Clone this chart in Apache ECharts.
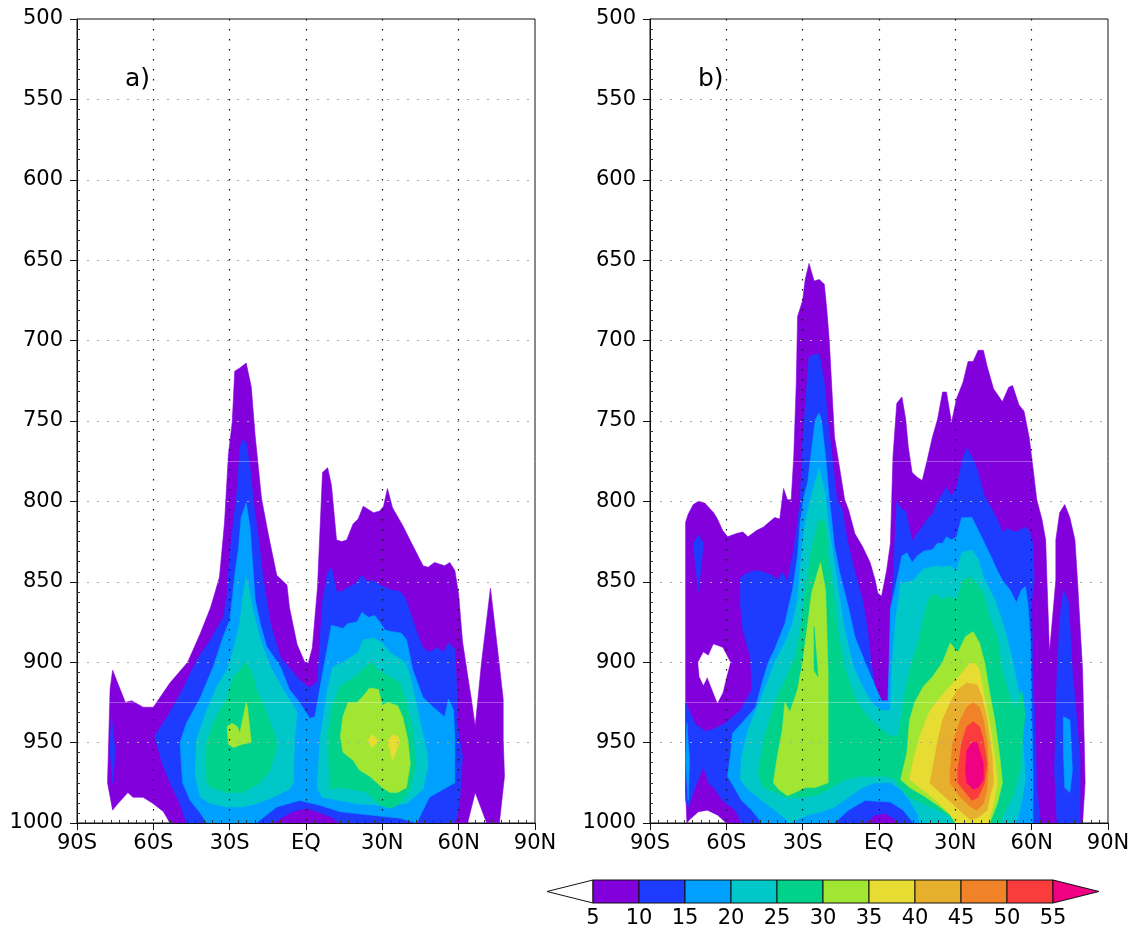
<!DOCTYPE html>
<html>
<head>
<meta charset="utf-8">
<title>Zonal-mean cross sections</title>
<script src="https://cdn.jsdelivr.net/npm/echarts@6/dist/echarts.min.js"></script>
<style>
  html, body { margin: 0; padding: 0; background: #fff; }
  #chart { width: 1138px; height: 932px; }
</style>
</head>
<body>
<div id="chart"></div>
<script>
// ---- axes and shading levels ----
const LAT_TICKS = [-90, -60, -30, 0, 30, 60, 90];
const LAT_NAMES = ['90S', '60S', '30S', 'EQ', '30N', '60N', '90N'];
const P_TICKS = [500, 550, 600, 650, 700, 750, 800, 850, 900, 950, 1000];
const LEVELS = [5, 10, 15, 20, 25, 30, 35, 40, 45, 50, 55];
const LEVEL_COLORS = [
  'rgb(130,0,220)', 'rgb(30,60,255)', 'rgb(0,160,255)', 'rgb(0,200,200)',
  'rgb(0,210,140)', 'rgb(160,230,50)', 'rgb(230,220,50)', 'rgb(230,175,45)',
  'rgb(240,130,40)', 'rgb(250,60,60)', 'rgb(240,0,130)'
];

// ---- panel a: filled contour regions, [latitude, pressure hPa] ----
const aShade5 = [
  [[-76,905],[-71,925],[-68.5,924],[-64,928],[-60,928],[-53.5,913],[-46.5,900],[-41.5,882],[-37.5,866],[-36,858],[-34,847],[-32,813],[-30.5,771],[-29,751],[-28,719],[-26,717],[-23.5,714],[-21.5,729],[-20,759],[-17.5,798],[-15,819],[-11.5,846],[-7.5,852],[-6.5,866],[-3.5,889],[-0.5,900],[1,900],[2.5,891],[4.5,854],[6.5,782],[8.5,779],[10,790],[12,824],[14,825],[16,824],[18.5,814],[20.5,811],[22.5,803],[26.5,807],[29,806],[30.5,803],[32,792],[34,804],[38,815],[41.5,826],[46,840],[48,841],[50.5,838],[54.5,840],[56.5,838],[58.5,843],[60,858],[61.5,887],[63.5,908],[65,923],[66.5,940],[69,900],[72.5,854],[75.5,895],[77.5,923],[77.5,948],[78,971],[76,1000],[71,1000],[66.5,981],[63.5,1000],[-53.5,1000],[-56,993],[-60,988],[-64,984],[-68,984],[-70,981],[-74.5,989],[-76,992],[-78,975],[-77,917]]
];
const aShade10 = [
  [[-76.5,934],[-75,955],[-76,975],[-77,955]],
  [[-25,762],[-23.5,763],[-22,779],[-20.5,802],[-18.5,825],[-17,846],[-15.5,861],[-14,876],[-10,897],[-2.5,911],[1.5,916],[4.5,912],[6.5,862],[8.5,844],[10,841],[12,856],[14,856],[16,854],[19.5,851],[22,846],[24,850],[26.5,849],[29,852],[33,855],[37,856],[39,860],[41,869],[43.5,881],[46,891],[48.5,894],[51.5,891],[54,894],[56,888],[58.5,892],[59.5,923],[59.5,938],[61.5,959],[60.5,984],[59.5,996],[58,1000],[13.5,1000],[9.5,996],[4.5,993],[0.5,991],[-3.5,992],[-6.5,994],[-13,1000],[-47,1000],[-49.5,988],[-53.5,975],[-56.5,963],[-59.5,946],[-54.5,934],[-48.5,917],[-43,899],[-37.5,886],[-32.5,872],[-31,859],[-30,833],[-28.5,813],[-27,792],[-26,767]]
];
const aShade15 = [
  [[-23.5,801],[-22,816],[-21,838],[-20,861],[-18,876],[-15.5,890],[-10,903],[-6.5,917],[-2.5,925],[1.5,935],[3.5,934],[6.5,907],[8.5,890],[10,877],[14.5,879],[16.5,876],[20,875],[22,869],[24.5,872],[27,871],[29,875],[31,880],[34,881],[37.5,882],[39.5,886],[42,905],[46,922],[50,928],[54.5,934],[56,923],[58,930],[58.5,948],[58.5,975],[54,979],[48.5,984],[46,992],[43.5,1000],[37,997],[25,995],[13.5,993],[5.5,989],[-2.5,986],[-11.5,990],[-19.5,1000],[-39,1000],[-41.5,994],[-45.5,986],[-48.5,975],[-49.5,950],[-47,938],[-41.5,922],[-36.5,903],[-32.5,884],[-30,874],[-29,861],[-28,846],[-26.5,829],[-25.5,810]]
];
const aShade20 = [
  [[-23.5,847],[-21.5,861],[-21,867],[-18,886],[-14,903],[-9,917],[-3.5,931],[-4.5,948],[-5,975],[-6.5,979],[-13,984],[-19.5,988],[-25,990],[-31,990],[-37.5,988],[-41.5,984],[-43.5,971],[-43,948],[-39,930],[-35,915],[-31,905],[-28.5,892],[-26,876],[-25,861]],
  [[4.5,975],[5.5,948],[8.5,917],[10.5,903],[14.5,900],[20.5,894],[22.5,886],[26.5,885],[30,888],[33,894],[36,897],[39,900],[41,909],[43,923],[45.5,942],[47.5,955],[48,964],[46,979],[39.5,988],[29,989],[20,988],[6.5,984],[4.5,979]]
];
const aShade25 = [
  [[-23.5,900],[-21,907],[-19.5,917],[-17,925],[-14,938],[-12,946],[-11.5,953],[-14,967],[-18,975],[-25,981],[-31,981],[-37.5,978],[-39,975],[-39.5,963],[-39,950],[-36.5,938],[-31,922],[-28.5,909],[-26,905]],
  [[9.5,979],[8.5,948],[10,928],[13.5,915],[20,908],[24,902],[26,900],[28.5,905],[33,909],[37,913],[39.5,925],[42,942],[43,965],[41,979],[37,988],[33,991],[29,989],[24,981],[17.5,979],[12,978]]
];
const aShade30 = [
  [[-31,940],[-29,938],[-27,940],[-26,944],[-23.5,925],[-23,928],[-21.5,950],[-25,951],[-28.5,953],[-30.5,951]],
  [[22,922],[25,916],[28.5,917],[30,927],[32,925],[36,927],[38,934],[40,948],[41,963],[39.5,978],[36,981],[33,981],[30,978],[25,971],[21,967],[18.5,961],[14.5,956],[13.5,946],[14.5,934],[16.5,925],[20,925]]
];
const aShade35 = [
  [[24,949],[26,945],[28.5,949],[26,953]],
  [[32,949],[34,945],[36,946],[37,949],[34,961]]
];

// ---- panel b: filled contour regions, [latitude, pressure hPa] ----
const bShade5 = [
  [[-76,813],[-75,808],[-73,802],[-71,800],[-68.5,801],[-65,807],[-63.5,811],[-61.5,818],[-59.5,822],[-56,820],[-53.5,819],[-51.5,822],[-48,818],[-45.5,816],[-41,810],[-39,811],[-37.5,792],[-36,799],[-34.5,799],[-33.5,772],[-32.5,726],[-32,685],[-30,675],[-29,662],[-27.5,652],[-25.5,663],[-23.5,662],[-21.5,665],[-20.5,681],[-19.5,701],[-18.5,731],[-17.5,760],[-15.5,779],[-13.5,799],[-12,805],[-9.5,820],[-6.5,828],[-3.5,838],[-1.5,849],[-0.5,857],[1,859],[3,843],[4.5,826],[5,799],[5.5,772],[7,739],[9,735],[10.5,749],[11.5,766],[13,782],[15,785],[17,787],[19,774],[21,760],[23,749],[25,732],[26.5,732],[28.5,751],[30.5,736],[33,726],[35,713],[37,713],[39,706],[41,706],[42.5,716],[45,730],[48.5,738],[51,729],[52.5,728],[55,740],[57,744],[59,760],[60.5,779],[62,799],[64,811],[65.5,824],[66,849],[67,894],[69.5,849],[69.5,824],[71,807],[73,802],[75,810],[77,824],[78,849],[80,905],[81,975],[80,1000],[-60,1000],[-63.5,995],[-67.5,992],[-71,993],[-74.5,998],[-75.5,1000],[-76,979]]
];
const bBelow5 = [
  [[-71,900],[-69,894],[-67,896],[-65,889],[-61.5,891],[-58.5,900],[-60,909],[-61.5,919],[-63.5,925],[-66.5,913],[-67.5,909],[-69,914],[-70.5,909]]
];
const bShade10 = [
  [[-71,821],[-69,826],[-71,856],[-73,826]],
  [[-76,925],[-72.5,938],[-68.5,943],[-65.5,942],[-60.5,938],[-54.5,930],[-50,917],[-50.5,897],[-53.5,880],[-54.5,863],[-54.5,848],[-52.5,845],[-48.5,843],[-45.5,844],[-42,846],[-40,849],[-38,844],[-36,850],[-34,834],[-32,813],[-31,799],[-30,764],[-28.5,731],[-27.5,710],[-24,708],[-23,712],[-21.5,726],[-20,751],[-18.5,772],[-16.5,799],[-14.5,805],[-12.5,824],[-9.5,844],[-6.5,861],[-4.5,880],[-3,902],[-0.5,924],[2.5,926],[4.5,925],[4.5,867],[5.5,849],[7,800],[9,805],[10.5,806],[13,825],[15,820],[17,816],[19,811],[21,808],[23,800],[25,795],[26.5,791],[28.5,797],[30.5,791],[32,780],[33,773],[34.5,767],[36.5,772],[38.5,780],[41.5,797],[44.5,805],[47,813],[48.5,819],[50.5,817],[53.5,819],[55.5,818],[57,816],[59,818],[60.5,826],[61,849],[60,863],[60.5,905],[61.5,946],[62,978],[63.5,1000],[8,1000],[5.5,997],[2.5,994],[-1.5,995],[-5.5,1000],[-54,1000],[-56.5,992],[-61.5,986],[-64.5,979],[-67,975],[-69,965],[-72.5,979],[-75,990],[-76,986]],
  [[72.5,855],[74.5,863],[76,905],[79,959],[79,1000],[70,1000],[69,967],[70,905],[71,874]]
];
const bShade15 = [
  [[-23.5,745],[-22.5,751],[-21,772],[-19.5,799],[-18.5,813],[-17.5,828],[-15.5,844],[-12,866],[-9.5,884],[-5.5,900],[-1.5,915],[1,924],[3.5,924],[4,899],[4.5,867],[7,849],[9,834],[11,832],[13,838],[15,834],[17.5,831],[21,830],[23,826],[25,826],[26.5,822],[28.5,824],[30.5,822],[32.5,810],[34.5,810],[36.5,810],[39,818],[41.5,826],[44.5,836],[46.5,843],[48.5,849],[51.5,855],[54,863],[56,855],[57.5,853],[58.5,863],[59.5,884],[60,925],[60.5,967],[60.5,1000],[13.5,1000],[9.5,992],[4.5,987],[-5.5,986],[-12,992],[-17.5,1000],[-46,1000],[-50,992],[-54,986],[-56.5,979],[-59.5,971],[-58.5,959],[-57.5,944],[-54,938],[-48.5,928],[-46,913],[-43.5,900],[-41,892],[-37,876],[-34,855],[-32,834],[-31,813],[-29.5,797],[-28,788],[-26.5,768],[-25,749]],
  [[-75.5,938],[-74.5,961],[-75,986],[-76,961]],
  [[72.5,934],[75,936],[76,967],[75,981],[73,978],[72.5,956]]
];
const bShade20 = [
  [[-23.5,779],[-21,796],[-20,813],[-18,834],[-16,855],[-13.5,880],[-10,903],[-6.5,915],[-3,925],[1,930],[4.5,930],[5,905],[6.5,874],[8.5,851],[13.5,849],[17.5,842],[23,840],[25,841],[28,840],[30.5,843],[32.5,832],[36.5,830],[39,836],[41.5,849],[45.5,861],[49.5,880],[52.5,899],[55.5,923],[56.5,948],[57.5,973],[55.5,992],[53.5,1000],[16,1000],[15.5,995],[12,986],[8.5,979],[4.5,975],[-1.5,975],[-6.5,978],[-12,984],[-17.5,990],[-22.5,993],[-28,995],[-35,1000],[-37,997],[-41,992],[-46,986],[-51.5,979],[-54.5,973],[-54,959],[-51.5,942],[-47,925],[-44,913],[-41,900],[-37,888],[-34,876],[-32,861],[-30.5,834],[-29,813],[-26.5,796]]
];
const bShade25 = [
  [[-23.5,811],[-21,813],[-20,834],[-18,855],[-16,882],[-13.5,903],[-9.5,922],[-4.5,934],[1,942],[4.5,946],[7.5,946],[9.5,925],[12,905],[16,884],[17.5,872],[20,859],[22,858],[25,861],[27,859],[30.5,861],[33,849],[36,847],[38.5,851],[41,857],[43.5,872],[46.5,884],[48.5,905],[51.5,922],[54,928],[56,917],[57.5,932],[56.5,946],[55.5,967],[52.5,984],[48.5,996],[47.5,1000],[29,1000],[28,996],[23,992],[17.5,988],[12,984],[7,975],[5.5,972],[1,971],[-6.5,971],[-13.5,973],[-18.5,978],[-25,983],[-30.5,984],[-37,984],[-41,981],[-45.5,978],[-47.5,969],[-45,946],[-41,925],[-37,911],[-33,897],[-30.5,876],[-29,855],[-26.5,830]]
];
const bShade30 = [
  [[-23,838],[-21,855],[-20.5,880],[-20,907],[-20,938],[-20,959],[-20,975],[-25,978],[-29,978],[-33,981],[-36,983],[-39.5,979],[-41.5,975],[-40,959],[-38,942],[-37,925],[-35,931],[-32,917],[-30,900],[-28,876],[-26.5,857]],
  [[37,881],[39.5,888],[41.5,900],[43.5,919],[45.5,936],[47.5,959],[48.5,975],[46.5,988],[43.5,1000],[30,1000],[28,995],[23,989],[17.5,983],[12,978],[8.5,973],[11,956],[12,936],[14,925],[17.5,915],[21,909],[25,900],[28,888],[31,894],[34,884]]
];
// a thin tongue of the 25-30 band reaching into the 30+ core south of 30S
const bShade25Tongue = [
  [[-25.5,878],[-24,909],[-25.5,905]]
];
const bShade35 = [
  [[36,900],[38.5,902],[39.5,905],[41.5,922],[43.5,938],[45.5,959],[46.5,975],[45,988],[43,1000],[30.5,1000],[26.5,992],[21,984],[16,978],[12,973],[13.5,961],[16,946],[20,930],[24,922],[29,913],[32.5,907]]
];
const bShade40 = [
  [[34.5,913],[38.5,914],[40.5,922],[42.5,936],[44.5,959],[45,975],[43.5,984],[42.5,992],[39.5,996],[36,998],[33,994],[29,988],[24,981],[20,975],[21,967],[23,950],[25,936],[28,925],[31,917]]
];
const bShade45 = [
  [[37,925],[39.5,928],[41,936],[42.5,950],[43,967],[42.5,979],[41,988],[38.5,992],[36,990],[32,984],[28,975],[28,967],[29,950],[32,936],[34.5,928]]
];
const bShade50 = [
  [[37,937],[39.5,940],[41,948],[42.5,963],[41.5,975],[39,984],[36.5,986],[34,981],[31,975],[31,967],[32.5,950],[34.5,940]]
];
const bShade55 = [
  [[36.5,950],[38.5,950],[39.5,955],[41,963],[41,973],[39,978],[37,979],[34.5,975],[34,967],[34.5,955]]
];

// ---- assemble regions in painting order (lower levels first) ----
function layers(list) {
  const out = [];
  list.forEach(([lv, polys]) => polys.forEach(pts => out.push({ lv, pts })));
  return out;
}
const regionsA = layers([
  [5, aShade5], [10, aShade10], [15, aShade15], [20, aShade20],
  [25, aShade25], [30, aShade30], [35, aShade35]
]);
const regionsB = layers([
  [5, bShade5], [0, bBelow5], [10, bShade10], [15, bShade15], [20, bShade20],
  [25, bShade25], [30, bShade30], [25, bShade25Tongue], [35, bShade35],
  [40, bShade40], [45, bShade45], [50, bShade50], [55, bShade55]
]);

function shadeColor(lv) {
  const i = LEVELS.indexOf(lv);
  return i < 0 ? '#ffffff' : LEVEL_COLORS[i];
}

const FONT = 'DejaVu Sans';
const latName = v => {
  const i = LAT_TICKS.indexOf(Math.round(v));
  return i < 0 ? '' : LAT_NAMES[i];
};

function shadeSeries(regions, idx) {
  return {
    type: 'custom',
    xAxisIndex: idx,
    yAxisIndex: idx,
    clip: true,
    silent: true,
    z: 2,
    data: regions.map(r => r.pts[0]),
    encode: { x: 0, y: 1 },
    renderItem: (params, api) => {
      const r = regions[params.dataIndex];
      const c = shadeColor(r.lv);
      return {
        type: 'polygon',
        shape: { points: r.pts.map(p => api.coord(p)) },
        style: { fill: c, stroke: c, lineWidth: 0.6 }
      };
    },
    // faint seams in the shading at two model levels
    markLine: {
      silent: true,
      symbol: 'none',
      label: { show: false },
      lineStyle: { color: 'rgba(255,255,255,0.32)', width: 1, type: 'solid' },
      data: [{ yAxis: 775 }, { yAxis: 925 }]
    }
  };
}

function latAxis(gridIndex) {
  return {
    gridIndex, type: 'value', min: -90, max: 90, interval: 30, z: 5,
    axisLine: { show: true, onZero: false, lineStyle: { color: '#111', width: 1 } },
    axisTick: { show: true, length: 7, lineStyle: { color: '#111' } },
    minorTick: { show: true, splitNumber: 9, length: -3, lineStyle: { color: '#333' } },
    axisLabel: {
      color: '#000', fontSize: 21, fontFamily: FONT, margin: 10,
      formatter: v => latName(v)
    },
    splitLine: {
      show: true, showMinLine: false, showMaxLine: false,
      lineStyle: { color: '#111', type: [1.5, 8.5], width: 1.2 }
    }
  };
}
function presAxis(gridIndex) {
  return {
    gridIndex, type: 'value', inverse: true, min: 500, max: 1000, interval: 50, z: 5,
    axisLine: { show: true, onZero: false, lineStyle: { color: '#111', width: 1 } },
    axisTick: { show: true, length: 7, lineStyle: { color: '#111' } },
    minorTick: { show: true, splitNumber: 8, length: -3, lineStyle: { color: '#333' } },
    axisLabel: {
      color: '#000', fontSize: 21, fontFamily: FONT, margin: 14,
      formatter: v => (P_TICKS.indexOf(v) < 0 ? '' : String(v))
    },
    splitLine: {
      show: true, showMinLine: false, showMaxLine: false,
      lineStyle: { color: '#aaa', type: [2, 8], width: 1 }
    }
  };
}

const chart = echarts.init(document.getElementById('chart'), null, { renderer: 'canvas' });

const option = {
  backgroundColor: '#ffffff',
  animation: false,
  title: [
    { text: 'a)', left: 120, top: 62, textStyle: { fontSize: 25, fontWeight: 'normal', fontFamily: FONT, color: '#000' } },
    { text: 'b)', left: 693, top: 62, textStyle: { fontSize: 25, fontWeight: 'normal', fontFamily: FONT, color: '#000' } }
  ],
  grid: [
    { left: 77, top: 19, width: 458, height: 804, show: true, borderColor: '#111', borderWidth: 1, backgroundColor: 'transparent' },
    { left: 650, top: 19, width: 458, height: 804, show: true, borderColor: '#111', borderWidth: 1, backgroundColor: 'transparent' },
    { left: 593, top: 880, width: 460, height: 23 }
  ],
  xAxis: [
    latAxis(0),
    latAxis(1),
    {
      gridIndex: 2, type: 'value', min: 5, max: 55, interval: 5,
      axisLine: { show: false }, axisTick: { show: false }, splitLine: { show: false },
      axisLabel: { color: '#000', fontSize: 21, fontFamily: FONT, margin: 5 }
    }
  ],
  yAxis: [
    presAxis(0),
    presAxis(1),
    { gridIndex: 2, type: 'value', min: 0, max: 1, show: false }
  ],
  series: [
    shadeSeries(regionsA, 0),
    shadeSeries(regionsB, 1),
    {
      // colour key: one box per shading interval, open-ended triangles at both ends
      type: 'custom',
      xAxisIndex: 2,
      yAxisIndex: 2,
      silent: true,
      clip: false,
      data: [[LEVELS[0], 0]],
      encode: { x: 0, y: 1 },
      renderItem: (params, api) => {
        const children = [];
        const y0 = api.coord([LEVELS[0], 0])[1];
        const y1 = api.coord([LEVELS[0], 1])[1];
        const ym = (y0 + y1) / 2;
        const step = LEVELS[1] - LEVELS[0];
        const border = { stroke: '#111', lineWidth: 1 };
        // lower open end
        const lo0 = api.coord([LEVELS[0] - step, 0])[0];
        const lo1 = api.coord([LEVELS[0], 0])[0];
        children.push({ type: 'polygon', shape: { points: [[lo1, y1], [lo0, ym], [lo1, y0]] }, style: Object.assign({ fill: '#ffffff' }, border) });
        for (let i = 0; i < LEVELS.length - 1; i++) {
          const xa = api.coord([LEVELS[i], 0])[0];
          const xb = api.coord([LEVELS[i + 1], 0])[0];
          children.push({ type: 'rect', shape: { x: xa, y: y1, width: xb - xa, height: y0 - y1 }, style: Object.assign({ fill: LEVEL_COLORS[i] }, border) });
        }
        // upper open end
        const last = LEVELS[LEVELS.length - 1];
        const hi0 = api.coord([last, 0])[0];
        const hi1 = api.coord([last + step, 0])[0];
        children.push({ type: 'polygon', shape: { points: [[hi0, y1], [hi1, ym], [hi0, y0]] }, style: Object.assign({ fill: LEVEL_COLORS[LEVEL_COLORS.length - 1] }, border) });
        return { type: 'group', children };
      }
    }
  ]
};

chart.setOption(option);
</script>
</body>
</html>
